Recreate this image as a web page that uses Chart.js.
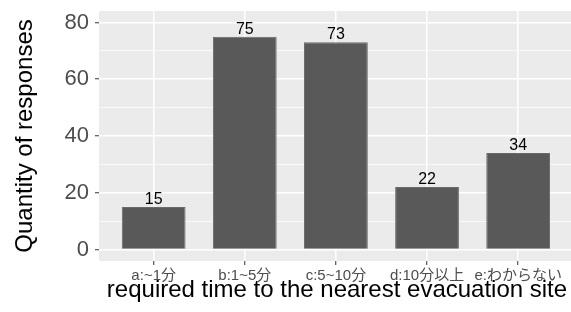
<!DOCTYPE html>
<html lang="ja">
  <head>
    <title>Evacuation time</title>
    <meta charset="utf-8" />
    <script src="https://cdn.jsdelivr.net/npm/chart.js@4.4.0/dist/chart.umd.min.js"></script>
    <style>
      html, body { margin: 0; padding: 0; background: #fff; }
      #wrap { width: 571px; height: 312px; }
    </style>
  </head>
  <body>
    <div id="wrap"><canvas id="chart" width="571" height="312"></canvas></div>
    <script>
      // data
      var categories = ["a:~1分", "b:1~5分", "c:5~10分", "d:10分以上", "e:わからない"];
      var counts = [15, 75, 73, 22, 34];
      var yTicks = [0, 10, 20, 30, 40, 50, 60, 70, 80];

      var FONT = "'Liberation Sans', Arial, 'Noto Sans CJK JP', sans-serif";

      // grey panel behind the plot, ggplot style
      var panelBg = {
        id: "panelBg",
        beforeDraw: function (chart) {
          var a = chart.chartArea, ctx = chart.ctx;
          ctx.save();
          ctx.fillStyle = "#EBEBEB";
          ctx.fillRect(a.left, a.top, a.right - a.left, a.bottom - a.top);
          ctx.restore();
        }
      };

      // value labels on top of bars + axis titles
      var extras = {
        id: "extras",
        afterDraw: function (chart) {
          var ctx = chart.ctx, a = chart.chartArea;
          ctx.save();
          ctx.fillStyle = "#000";
          ctx.font = "16px " + FONT;
          ctx.textAlign = "center";
          ctx.textBaseline = "alphabetic";
          chart.getDatasetMeta(0).data.forEach(function (bar, i) {
            ctx.fillText(String(counts[i]), bar.x, bar.y - 3);
          });

          ctx.font = "24px " + FONT;
          ctx.fillText("required time to the nearest evacuation site", (a.left + a.right) / 2 + 2, 297);

          ctx.translate(32, (a.top + a.bottom) / 2);
          ctx.rotate(-Math.PI / 2);
          ctx.fillText("Quantity of responses", 0, 0);
          ctx.restore();
        }
      };

      var points = counts.map(function (v, i) { return { x: i, y: v }; });

      new Chart(document.getElementById("chart"), {
        type: "bar",
        data: {
          datasets: [{
            data: points,
            backgroundColor: "#595959",
            borderColor: "#6a6a6a",
            borderWidth: 1,
            barPercentage: 0.7,
            categoryPercentage: 1.0
          }]
        },
        options: {
          responsive: false,
          animation: false,
          devicePixelRatio: 1,
          layout: { padding: { top: 11, right: 0, left: 0, bottom: 0 } },
          plugins: { legend: { display: false }, tooltip: { enabled: false } },
          scales: {
            x: {
              type: "linear",
              min: -0.6,
              max: 4.58,
              offset: false,
              afterFit: function (s) {
                s.height = 51;
                s.paddingLeft = 0;
                s.paddingRight = 0;
              },
              afterBuildTicks: function (s) {
                s.ticks = categories.map(function (c, i) { return { value: i }; });
              },
              border: { display: false },
              grid: {
                offset: false,
                color: "#FFFFFF",
                lineWidth: 1.5,
                tickColor: "#333333",
                tickLength: 4,
                tickWidth: 1
              },
              ticks: {
                padding: 2,
                color: "#4D4D4D",
                font: { size: 15, family: FONT },
                maxRotation: 0,
                autoSkip: false,
                callback: function (v) { return categories[v]; }
              }
            },
            y: {
              min: -4.05,
              max: 84.05,
              afterFit: function (s) {
                s.width = 99;
                s.paddingTop = 0;
                s.paddingBottom = 0;
              },
              afterBuildTicks: function (s) {
                s.ticks = yTicks.map(function (v) { return { value: v }; });
              },
              border: { display: false },
              grid: {
                color: "#FFFFFF",
                lineWidth: function (c) { return c.tick && c.tick.value % 20 === 0 ? 1.5 : 0.7; },
                tickColor: function (c) { return c.tick && c.tick.value % 20 === 0 ? "#333333" : "rgba(0,0,0,0)"; },
                tickLength: 4,
                tickWidth: 1
              },
              ticks: {
                padding: 6,
                color: "#4D4D4D",
                font: { size: 22, family: FONT },
                autoSkip: false,
                callback: function (v) { return v % 20 === 0 ? String(v) : ""; }
              }
            }
          }
        },
        plugins: [panelBg, extras]
      });
    </script>
  </body>
</html>
